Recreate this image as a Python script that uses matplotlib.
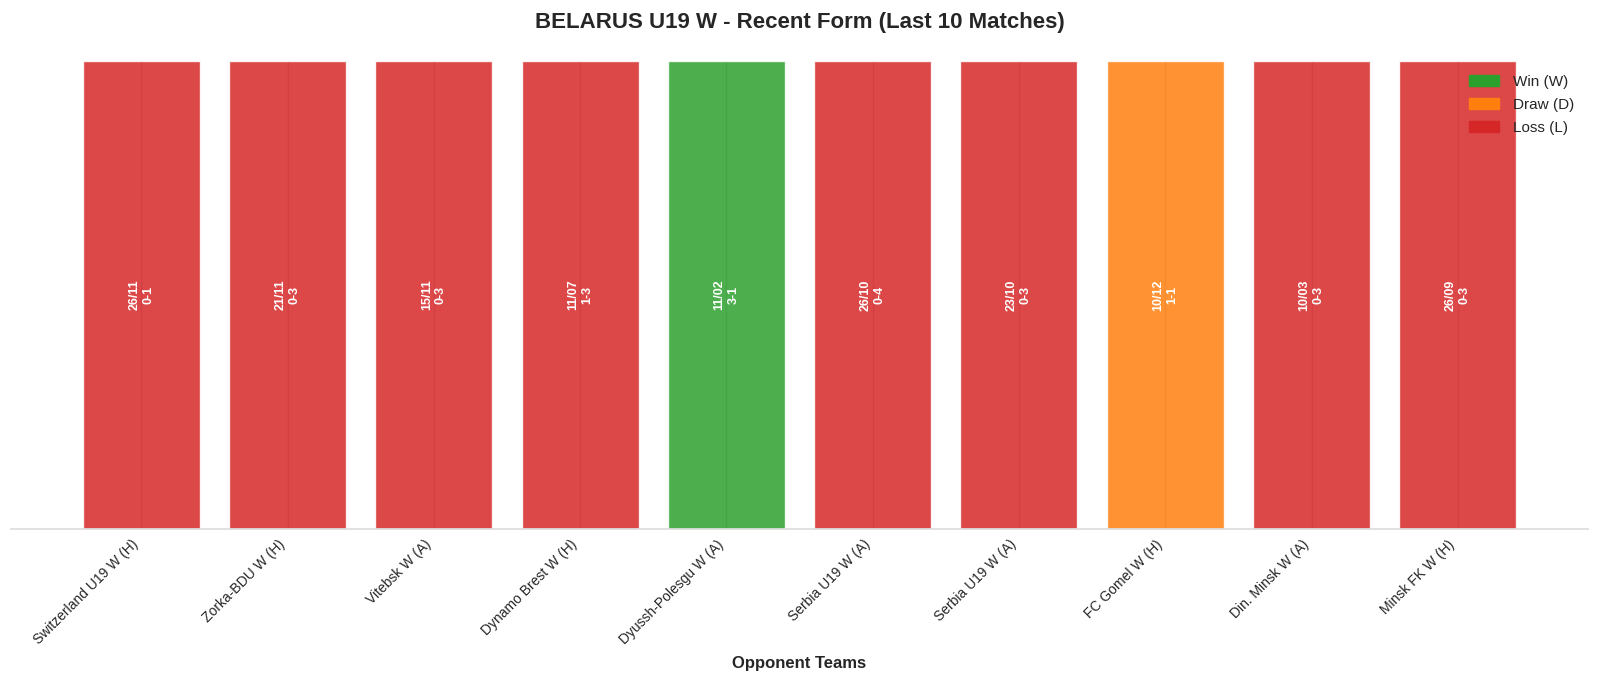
import matplotlib
matplotlib.use("Agg")
import matplotlib.pyplot as plt
from matplotlib.patches import Patch
import seaborn as sns

opponents = ["Switzerland U19 W (H)", "Zorka-BDU W (H)", "Vitebsk W (A)", "Dynamo Brest W (H)",
             "Dyussh-Polesgu W (A)", "Serbia U19 W (A)", "Serbia U19 W (A)", "FC Gomel W (H)",
             "Din. Minsk W (A)", "Minsk FK W (H)"]
results = ["L", "L", "L", "L", "W", "L", "L", "D", "L", "L"]
dates = ["26/11", "21/11", "15/11", "11/07", "11/02", "26/10", "23/10", "10/12", "10/03", "26/09"]
scores = ["0-1", "0-3", "0-3", "1-3", "3-1", "0-4", "0-3", "1-1", "0-3", "0-3"]

colors = {"W": "#2ca02c", "D": "#ff7f0e", "L": "#d62728"}

sns.set_theme(style="whitegrid")
plt.rcParams['font.family'] = ['Liberation Sans', 'DejaVu Sans']

fig = plt.figure(figsize=(16, 6.84), dpi=100)
ax = fig.add_axes([0.0069, 0.2266, 0.9856, 0.6842])

x = list(range(len(opponents)))
ax.bar(x, [1] * len(x), width=0.8, color=[colors[r] for r in results], alpha=0.85,
       edgecolor="white", linewidth=1)

for i in x:
    ax.text(i, 0.5, f"{dates[i]}\n{scores[i]}", rotation=90, ha="center", va="center",
            color="white", fontweight="bold", fontsize=9)

ax.set_xticks(x)
ax.set_xticklabels(opponents, rotation=45, ha="right", fontsize=10)
ax.tick_params(axis="x", pad=0)
ax.set_yticks([])
ax.set_ylim(0, 1)
ax.set_xlim(-0.89, 9.89)
ax.set_xlabel("Opponent Teams", fontsize=12, fontweight="bold", labelpad=6)
ax.set_title("BELARUS U19 W - Recent Form (Last 10 Matches)", fontsize=16, fontweight="bold", pad=24)
for s in ["left", "right", "top"]:
    ax.spines[s].set_visible(False)
ax.spines["bottom"].set_color("#dddddd")

handles = [Patch(color=colors["W"], label="Win (W)"),
           Patch(color=colors["D"], label="Draw (D)"),
           Patch(color=colors["L"], label="Loss (L)")]
ax.legend(handles=handles, loc="upper right", frameon=False, fontsize=11,
          labelspacing=0.6, handletextpad=0.9)

fig.savefig("out.png", dpi=100)
